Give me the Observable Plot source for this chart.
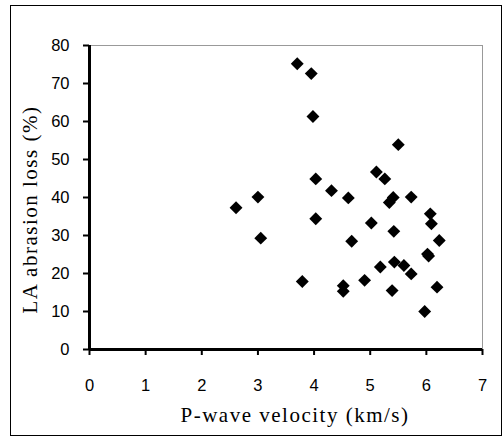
<!DOCTYPE html>
<html>
<head>
<meta charset="utf-8">
<script src="https://cdn.jsdelivr.net/npm/d3@7"></script>
<script src="https://cdn.jsdelivr.net/npm/@observablehq/plot@0.6"></script>
<style>
  html, body { margin: 0; padding: 0; background: #fff; }
  #wrap { position: relative; width: 504px; height: 438px; }
  #frame { position: absolute; left: 10px; top: 5px; width: 492px; height: 431px; border: 1px solid #000; box-sizing: border-box; pointer-events: none; }
  svg g[aria-label="text"] text { letter-spacing: 1.5px; }
</style>
</head>
<body>
<div id="wrap"><div id="frame"></div></div>
<script>
const velocity = [3.70, 3.95, 3.98, 5.50, 5.11, 5.26, 4.03, 4.31, 4.61, 3.00, 2.61, 5.41, 5.34, 5.73, 4.03, 5.02, 6.07, 6.09, 5.42, 3.05, 4.67, 6.23, 6.04, 6.02, 5.43, 5.60, 5.18, 5.73, 3.79, 4.90, 4.52, 4.52, 5.39, 6.19, 5.97];
const abrasionLoss = [75.2, 72.6, 61.3, 53.9, 46.7, 44.9, 44.9, 41.8, 39.9, 40.1, 37.3, 40.0, 38.7, 40.1, 34.4, 33.3, 35.7, 33.1, 31.1, 29.3, 28.5, 28.7, 24.6, 25.1, 23.0, 22.1, 21.7, 19.9, 17.9, 18.2, 16.8, 15.3, 15.5, 16.4, 10.0];
const xTicks = [0, 1, 2, 3, 4, 5, 6, 7];
const yTicks = [0, 10, 20, 30, 40, 50, 60, 70, 80];
const xTitle = "P-wave velocity (km/s)";
const yTitle = "LA abrasion loss (%)";

const data = velocity.map((v, i) => ({v, loss: abrasionLoss[i]}));

const chart = Plot.plot({
  width: 504,
  height: 438,
  marginLeft: 89,
  marginRight: 22,
  marginTop: 45,
  marginBottom: 89,
  style: {fontFamily: "'Liberation Sans', Arial, sans-serif", background: "transparent", color: "#000"},
  x: {domain: [0, 7]},
  y: {domain: [0, 80]},
  marks: [
    Plot.ruleY([80], {stroke: "#999", strokeWidth: 1}),
    Plot.ruleX([7], {stroke: "#999", strokeWidth: 1}),
    Plot.axisX({ticks: xTicks, tickSize: 6, tickPadding: 24, tickFormat: d => String(d), fontSize: 16.5, strokeWidth: 2, label: null}),
    Plot.axisY({ticks: yTicks, tickSize: 6, tickPadding: 14, tickFormat: d => String(d), fontSize: 16.5, strokeWidth: 2, label: null}),
    Plot.ruleX([0], {stroke: "#000", strokeWidth: 3}),
    Plot.ruleY([0], {stroke: "#000", strokeWidth: 3}),
    Plot.dot(data, {x: "v", y: "loss", symbol: "diamond2", r: 5.8, fill: "#000", stroke: "none"}),
    Plot.text([xTitle], {frameAnchor: "bottom", dx: 9, dy: 66, fontSize: 21, fontFamily: "'Liberation Serif', 'Times New Roman', serif", fill: "#000", lineAnchor: "middle"}),
    Plot.text([yTitle], {frameAnchor: "left", dx: -59, dy: 116, rotate: -90, fontSize: 21, fontFamily: "'Liberation Serif', 'Times New Roman', serif", fill: "#000", lineAnchor: "middle"})
  ]
});
chart.style.position = "absolute";
chart.style.left = "0";
chart.style.top = "0";
document.getElementById("wrap").appendChild(chart);
</script>
</body>
</html>
